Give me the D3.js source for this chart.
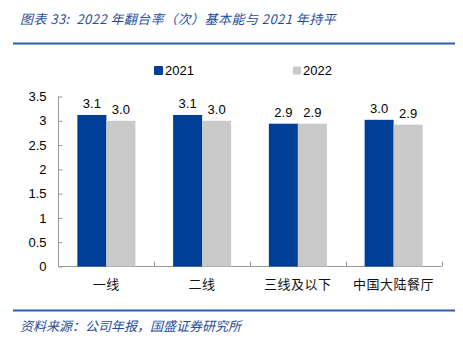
<!DOCTYPE html>
<html><head><meta charset="utf-8">
<script src="https://cdn.jsdelivr.net/npm/d3@7"></script>
<style>body{margin:0;background:#fff}svg{display:block}</style>
</head><body>
<script>
const categories = ["一线", "二线", "三线及以下", "中国大陆餐厅"];
const seriesNames = ["2021", "2022"];
const values2021 = [3.12, 3.12, 2.94, 3.02];
const values2022 = [3.0, 3.0, 2.94, 2.92];
const yTicks = [0, 0.5, 1, 1.5, 2, 2.5, 3, 3.5];
const yTickLabels = ["0", "0.5", "1", "1.5", "2", "2.5", "3", "3.5"];
const colors = ["#003F98", "#C9C9C9"];

const W = 463, H = 343;
const svg = d3.select("body").append("svg").attr("width", W).attr("height", H);
const cjk = "'Noto Sans CJK SC', sans-serif";
const num = "'Liberation Sans', Arial, sans-serif";
const titleBlue = "#1F4E9B";

svg.append("text").attr("x", 20).attr("y", 24)
  .attr("font-family", cjk).attr("font-size", 13).attr("font-style", "italic")
  .attr("fill", titleBlue).attr("letter-spacing", 0.45).style("white-space", "pre")
  .text("图表 33:  2022 年翻台率（次）基本能与 2021 年持平");
svg.append("line").attr("x1", 13).attr("x2", 455).attr("y1", 43.5).attr("y2", 43.5)
  .attr("stroke", "#2F5FA8").attr("stroke-width", 2);
svg.append("line").attr("x1", 13).attr("x2", 455).attr("y1", 310.5).attr("y2", 310.5)
  .attr("stroke", "#2F5FA8").attr("stroke-width", 2);
svg.append("text").attr("x", 20).attr("y", 331)
  .attr("font-family", cjk).attr("font-size", 13).attr("font-style", "italic")
  .attr("fill", titleBlue)
  .text("资料来源：公司年报，国盛证券研究所");

const xOuter = d3.scaleBand().domain(categories).range([58.5, 441.5]);
const x1 = d3.scaleBand().domain(seriesNames).range([0, xOuter.bandwidth()]).paddingOuter(0.65);
const y = d3.scaleLinear().domain([0, 3.5]).range([266.5, 96.5]);

// y axis
const yAxis = d3.axisRight(y).tickValues(yTicks).tickSize(4).tickFormat((d, i) => yTickLabels[i]);
const gy = svg.append("g").attr("transform", "translate(58.5,0)").call(yAxis);
gy.select(".domain").attr("stroke", "#999").attr("d", "M0,96.5V266.5");
gy.selectAll(".tick line").attr("stroke", "#999");
gy.selectAll(".tick text").attr("x", -12).attr("text-anchor", "end")
  .attr("font-family", num).attr("font-size", 13).attr("fill", "#000");

// x axis
const gx = svg.append("g").attr("transform", "translate(0,266.5)");
gx.append("line").attr("x1", 58.5).attr("x2", 441.5).attr("stroke", "#999");
gx.selectAll(".xt").data(categories).join("line")
  .attr("x1", d => Math.round(xOuter(d) + xOuter.bandwidth()) + 0.5)
  .attr("x2", d => Math.round(xOuter(d) + xOuter.bandwidth()) + 0.5)
  .attr("y1", 0).attr("y2", -5).attr("stroke", "#999");
gx.selectAll(".xl").data(categories).join("text")
  .attr("x", d => xOuter(d) + xOuter.bandwidth() / 2).attr("y", 22)
  .attr("text-anchor", "middle").attr("font-family", cjk).attr("font-size", 13).attr("fill", "#111")
  .attr("letter-spacing", 0.5)
  .text(d => d);

// bars
const data = categories.map((c, i) => ({c, vals: [values2021[i], values2022[i]]}));
const groups = svg.append("g").selectAll("g").data(data).join("g")
  .attr("transform", d => `translate(${xOuter(d.c)},0)`);
groups.selectAll("rect").data(d => d.vals.map((v, k) => ({v, k}))).join("rect")
  .attr("x", d => x1(seriesNames[d.k])).attr("width", x1.bandwidth())
  .attr("y", d => y(d.v)).attr("height", d => y(0) - y(d.v))
  .attr("fill", d => colors[d.k]);
groups.selectAll("text").data(d => d.vals.map((v, k) => ({v, k}))).join("text")
  .attr("x", d => x1(seriesNames[d.k]) + x1.bandwidth() / 2).attr("y", d => y(d.v) - 7)
  .attr("text-anchor", "middle").attr("font-family", num).attr("font-size", 13).attr("fill", "#000")
  .text(d => d.v.toFixed(1));

// legend
const legX = [154, 293];
const legS = [9, 8];
seriesNames.forEach((s, i) => {
  svg.append("rect").attr("x", legX[i]).attr("y", 70.5 - legS[i] / 2).attr("width", legS[i]).attr("height", legS[i])
    .attr("rx", 1).attr("fill", colors[i]);
  svg.append("text").attr("x", legX[i] + legS[i] + 2).attr("y", 75).attr("font-family", num).attr("font-size", 13)
    .attr("fill", "#000").text(s);
});
</script>
</body></html>
